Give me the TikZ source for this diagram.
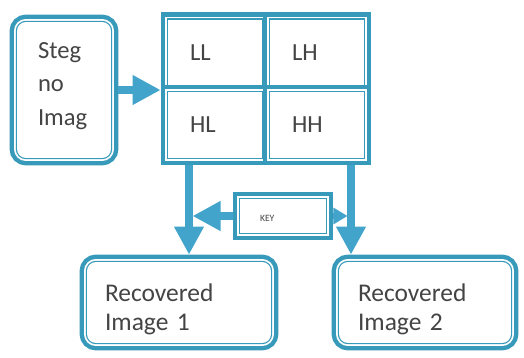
\documentclass[tikz,border=0pt]{standalone}
\usepackage{fontspec}
\setmainfont{Carlito}
\usepackage{tikz}
\usetikzlibrary{arrows.meta}
\usetikzlibrary{calc}
\definecolor{bandblue}{RGB}{56,154,186}
\definecolor{arrowblue}{RGB}{66,164,202}
\definecolor{txtgray}{RGB}{68,68,68}
\tikzset{band/.style={draw=bandblue, line width=8.4pt,
    postaction={draw=white, line width=3.4pt},
    postaction={draw=bandblue, line width=1.4pt},
    postaction={fill=white},
    text=txtgray, align=left, inner sep=0pt,
    font=\fontsize{14}{19}\selectfont}}
\tikzset{box/.style={band, rounded corners=0.18cm}}
\tikzset{cell/.style={band, minimum width=1.88cm, minimum height=1.32cm, text width=1cm}}
\tikzset{bigarrow/.style={draw=arrowblue, line width=4pt, -{Triangle[width=16pt,length=16pt]}}}

\begin{document}
\begin{tikzpicture}[x=0.02cm,y=-0.02cm]
  \useasboundingbox (0,0) rectangle (524,358);
  \node[box, minimum width=1.88cm, minimum height=2.72cm, text width=1.04cm] (steg) at (64,90) {Steg\\no\\Imag\\[-12pt]\mbox{}};
  \foreach \x/\y/\name/\lab in {
    215/52.5/LL/ll,
    317/52.5/LH/lh,
    215/125/HL/hl,
    317/125/HH/hh%
  } {
    \node[cell] (\lab) at (\x, \y) {\name};
  }
  \node[band, minimum width=1.72cm, minimum height=0.68cm, text width=0.92cm,
    text height=6.8pt, text depth=0pt,
    font=\fontsize{5.5}{6}\selectfont] (key) at (283,216) {KEY};
  \node[box, minimum width=3.68cm, minimum height=1.62cm, text width=2.96cm,
    text height=10pt, text depth=11.6pt,
    font=\fontsize{14.5}{17}\selectfont] (rec1) at (179,302.5) {Recovered\\Image 1};
  \node[box, minimum width=3.44cm, minimum height=1.62cm, text width=2.68cm,
    text height=10pt, text depth=11.6pt,
    font=\fontsize{14.5}{17}\selectfont] (rec2) at (425,302.5) {Recovered\\Image 2};
  % arrows
  \coordinate (d1) at ([xshift=-0.52cm]hl.south);
  \coordinate (d2) at ([xshift=0.68cm]hh.south);
  \draw[bigarrow] (steg.east) -- (ll.south west |- steg.east);
  \draw[bigarrow] (d1) -- (d1 |- rec1.north);
  \draw[bigarrow] (d2) -- (d2 |- rec2.north);
  \draw[bigarrow, shorten >=2pt] (key.west) -- (key.west -| d1);
  \draw[draw=arrowblue, line width=3pt, -{Triangle[width=9pt,length=8pt]}, shorten >=2pt] (key.east) -- (key.east -| d2);
\end{tikzpicture}
\end{document}
